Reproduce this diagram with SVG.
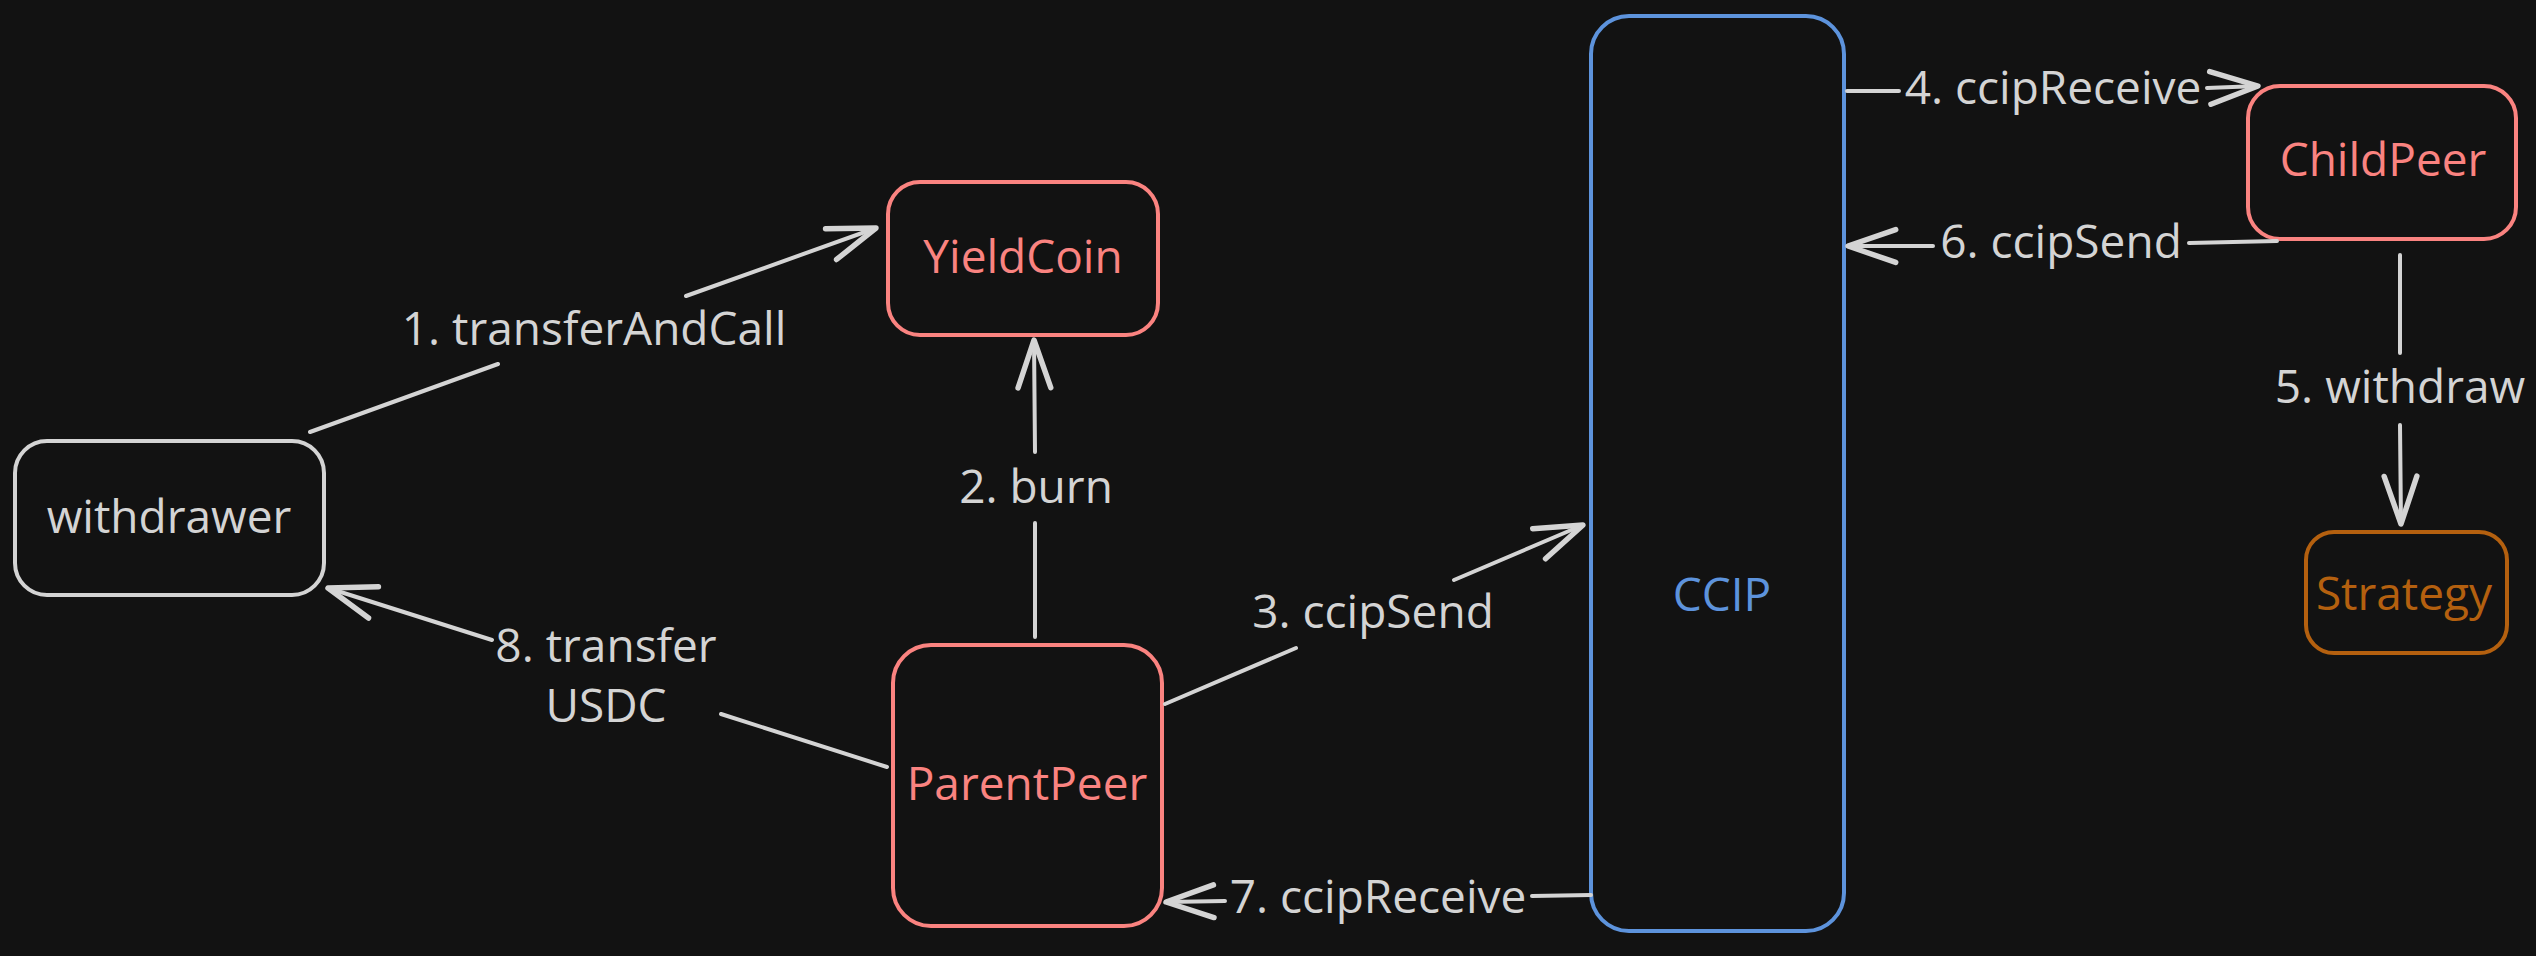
<svg xmlns="http://www.w3.org/2000/svg" width="2536" height="956" viewBox="0 0 2536 956">
<defs>
<style>
.bg{fill:#121212}
.box{fill:#121212;stroke-width:4}
.gray{stroke:#d4d4d4}
.red{stroke:#fa8380}
.blue{stroke:#5d93dc}
.orange{stroke:#b4600f}
text{font-family:"Open Sans","Noto Sans","Liberation Sans",sans-serif;font-size:46px;text-anchor:middle}
.tgray{fill:#d4d4d4}
.tred{fill:#fa8380}
.tblue{fill:#5d93dc}
.torange{fill:#b4600f}
.conn{fill:none;stroke:#d4d4d4;stroke-width:4;stroke-linecap:round;stroke-linejoin:round;marker-end:url(#arrow)}
</style>
<marker id="arrow" markerUnits="userSpaceOnUse" markerWidth="60" markerHeight="60" viewBox="-40 -20 44 40" refX="0" refY="0" orient="auto">
<path d="M -35 -12 L 0 0 L -35 12" fill="none" stroke="#d4d4d4" stroke-width="4" stroke-linecap="round" stroke-linejoin="round"/>
</marker>
</defs>
<rect class="bg" x="0" y="0" width="2536" height="956"/>
<g id="withdrawer">
<rect class="box gray" x="15" y="441" width="309" height="154" rx="32"/>
<text class="tgray" x="169" y="533">withdrawer</text>
</g>
<g id="yieldcoin">
<rect class="box red" x="888" y="182" width="270" height="153" rx="32"/>
<text class="tred" x="1023" y="273">YieldCoin</text>
</g>
<g id="parentpeer">
<rect class="box red" x="893" y="645" width="269" height="281" rx="38"/>
<text class="tred" x="1027" y="800">ParentPeer</text>
</g>
<g id="ccip">
<rect class="box blue" x="1591" y="16" width="253" height="915" rx="38"/>
<text class="tblue" x="1722" y="611">CCIP</text>
</g>
<g id="childpeer">
<rect class="box red" x="2248" y="86" width="268" height="153" rx="32"/>
<text class="tred" x="2383" y="176">ChildPeer</text>
</g>
<g id="strategy">
<rect class="box orange" x="2306" y="532" width="201" height="121" rx="28"/>
<text class="torange" x="2404" y="610">Strategy</text>
</g>
<g id="connectors">
<path class="conn" d="M 310 432 L 498 364 M 686 296 L 876 228"/>
<path class="conn" d="M 1035 637 L 1035 523 M 1035 452 L 1034 340"/>
<path class="conn" d="M 1165 704 L 1296 648 M 1454 580 L 1583 525"/>
<path class="conn" d="M 1847 91 L 1899 91 M 2207 88 L 2258 86"/>
<path class="conn" d="M 2400 255 L 2400 353 M 2400 425 L 2401 524"/>
<path class="conn" d="M 2277 241 L 2189 243 M 1933 246 L 1848 246"/>
<path class="conn" d="M 1591 895 L 1532 896 M 1225 901 L 1166 902"/>
<path class="conn" d="M 887 767 L 721 714 M 492 640 L 328 588"/>
<text class="tgray" x="594" y="345">1. transferAndCall</text>
<text class="tgray" x="1036" y="503">2. burn</text>
<text class="tgray" x="1373" y="628">3. ccipSend</text>
<text class="tgray" x="2053" y="104">4. ccipReceive</text>
<text class="tgray" x="2400" y="403">5. withdraw</text>
<text class="tgray" x="2061" y="258">6. ccipSend</text>
<text class="tgray" x="1378" y="913">7. ccipReceive</text>
<text class="tgray" x="606" y="662">8. transfer</text>
<text class="tgray" x="606" y="722">USDC</text>
</g>
</svg>
